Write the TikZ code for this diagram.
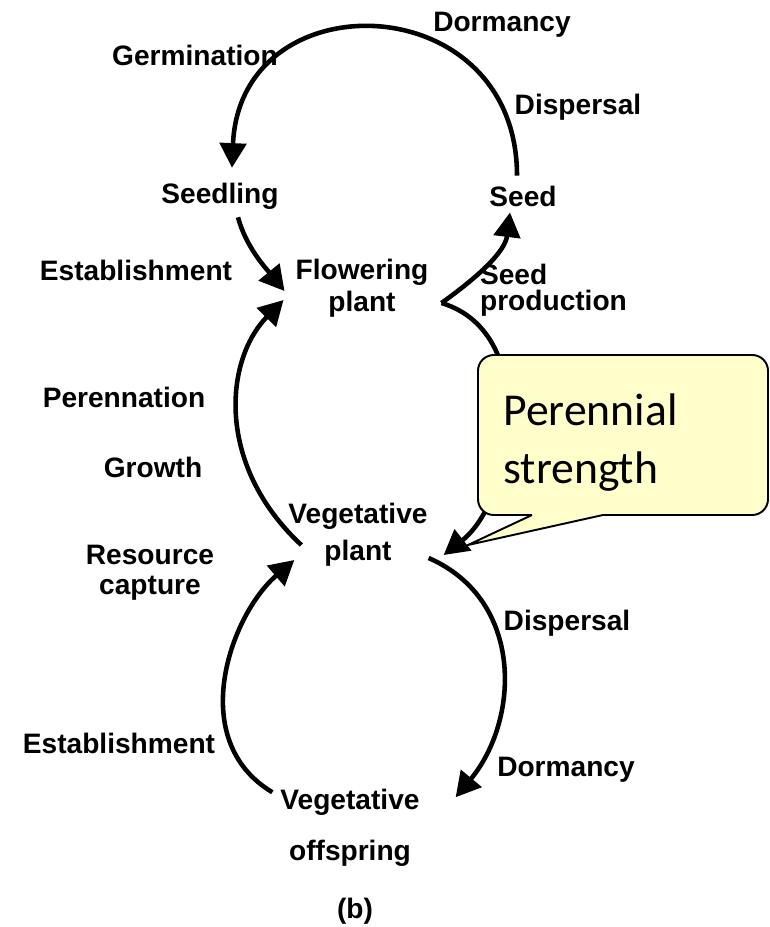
\documentclass[tikz,border=0pt]{standalone}
\usepackage{fontspec}
\setmainfont{Liberation Sans}
\newfontfamily\notefont{Carlito}
\usepackage{tikz}
\usetikzlibrary{arrows.meta,positioning,calc}
\definecolor{NoteY}{RGB}{255,255,204}

\begin{document}
\begin{tikzpicture}[x=0.02cm,y=0.02cm,
    lbl/.style={font=\fontsize{16}{18}\selectfont\bfseries,align=center,inner sep=1pt},
    cyc/.style={-{Triangle[length=14pt,width=15pt]},line width=2.6pt},
    note/.style={draw,line width=1.1pt,fill=NoteY,rounded corners=9pt}]
  \useasboundingbox (0,0) rectangle (770,-927);

  \node[lbl] (seedling) at (220,-196) {Seedling};
  \node[lbl] (seed) at (523,-196) {Seed};
  \node[lbl] (flower) at (362,-288) {Flowering\\plant};
  \node[lbl] (vegplant) at (358,-535) {Vegetative\\[3pt]plant};
  \node[lbl] (offspring) at (350,-828) {Vegetative\\[11pt]offspring};

  \foreach \n/\x/\y/\t in {dormA/502/25/Dormancy, germ/195/55/Germination,
                           dispA/578/107/Dispersal, estabA/136/270/Establishment,
                           peren/124/397/Perennation, growth/153/467/Growth,
                           dispB/567/623/Dispersal, estabB/119/743/Establishment,
                           dormB/566/770/Dormancy}
    \node[lbl] (\n) at (\x,-\y) {\t};
  \node[lbl,align=left,anchor=west] (seedprod) at (478,-290) {Seed\\[-3pt]production};
  \node[lbl] (rescap) at (150,-573) {Resource\\[-1pt]capture};
  \node[lbl] (figb) at (355,-911) {(b)};

  \draw[cyc] ($(seed.north)+(-6,8)$) .. controls +(0,190) and +(8,190) .. ($(seedling.north)+(12,13)$);
  \draw[cyc] ($(seedling.south)+(18,-6)$) .. controls +(8,-30) and +(-18,22) .. ($(flower.west)+(-9,-3)$);
  \draw[cyc] ($(flower.east)+(11,-15)$) .. controls +(35,25) and +(-5,-40) .. ($(seed.south)+(-13,-4)$);
  \draw[cyc] ($(flower.east)+(11,-15)$) .. controls +(100,-30) and +(70,55) .. ($(vegplant.east)+(14,-20)$);
  \draw[cyc] ($(vegplant.west)+(15,-10)$) .. controls +(-86,80) and +(-59,-60) .. ($(flower.west)+(-10,-12)$);
  \draw[cyc] ($(offspring.north west)+(-6,-5)$) .. controls +(-87,52) and +(-64,-55) .. ($(vegplant.west)+(8,-25)$);
  \draw[cyc] ($(vegplant.east)+(-1,-23)$) .. controls +(96,-42) and +(64,77) .. ($(offspring.north east)+(34,-10)$);

  \draw[note] (478,-355) rectangle (768,-515);
  \fill[NoteY] (532,-511) -- (532,-515) -- (468,-545) -- (603,-515) -- (603,-511) -- cycle;
  \draw[line width=1.1pt] (532,-515) -- (468,-545) -- (603,-515);
  \node[font=\notefont\fontsize{26}{33}\selectfont,align=left,anchor=west,inner sep=0pt] (strength) at (503,-443) {Perennial\\strength};
\end{tikzpicture}
\end{document}
